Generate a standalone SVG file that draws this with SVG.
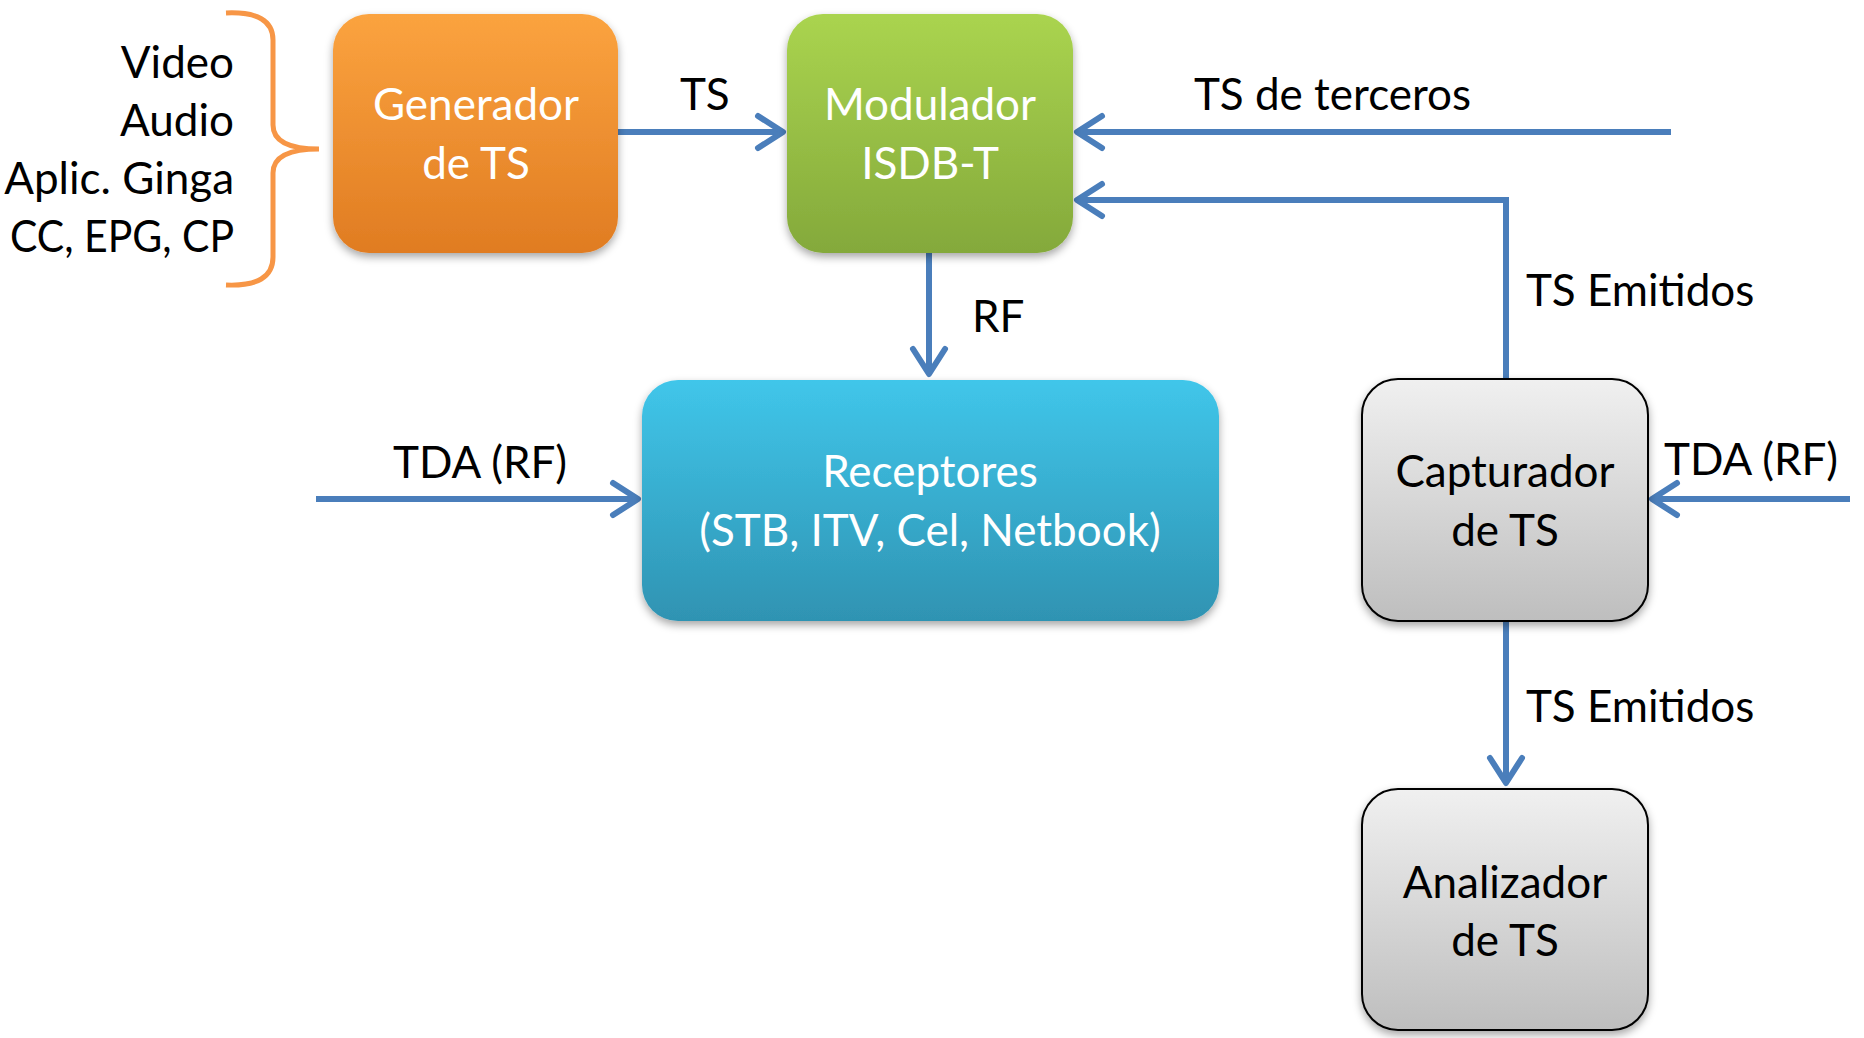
<svg xmlns="http://www.w3.org/2000/svg" width="1864" height="1038" viewBox="0 0 1864 1038">
<defs>
<linearGradient id="gOr" x1="0" y1="0" x2="0" y2="1"><stop offset="0" stop-color="#fba33f"/><stop offset="1" stop-color="#e07c22"/></linearGradient>
<linearGradient id="gGr" x1="0" y1="0" x2="0" y2="1"><stop offset="0" stop-color="#aad44f"/><stop offset="1" stop-color="#84a93b"/></linearGradient>
<linearGradient id="gBl" x1="0" y1="0" x2="0" y2="1"><stop offset="0" stop-color="#40c6ea"/><stop offset="1" stop-color="#2f93b2"/></linearGradient>
<linearGradient id="gGy" x1="0" y1="0" x2="0" y2="1"><stop offset="0" stop-color="#f0f0f0"/><stop offset="1" stop-color="#bebebe"/></linearGradient>
<filter id="sh" x="-10%" y="-10%" width="120%" height="125%"><feDropShadow dx="0" dy="4" stdDeviation="4" flood-color="#000" flood-opacity="0.35"/></filter>
<style>
text{font-family:Lato,"Open Sans","Noto Sans",sans-serif;font-size:44px}
.w{fill:#ffffff;text-anchor:middle}
.k{fill:#000000;text-anchor:middle}
.l{fill:#000000}
.c{fill:none;stroke:#4a7ebb;stroke-width:6}
.h{fill:none;stroke:#4a7ebb;stroke-width:6;stroke-linecap:round;stroke-linejoin:round}
</style>
</defs>
<rect width="1864" height="1038" fill="#ffffff"/>
<g id="inputs">
<path d="M226,13 Q273,11 273,40 L273,125 Q273,149 319,149 Q273,149 273,173 L273,257 Q273,287 226,285" fill="none" stroke="#f79646" stroke-width="5"/>
<text class="l" x="234" y="78" text-anchor="end">Video</text>
<text class="l" x="234" y="136" text-anchor="end">Audio</text>
<text class="l" x="234" y="194" text-anchor="end">Aplic. Ginga</text>
<text class="l" x="10" y="252" textLength="224" lengthAdjust="spacingAndGlyphs">CC, EPG, CP</text>
</g>
<g id="connectors">
<path class="c" d="M618,132 L782,132"/>
<path class="h" d="M758,116 L783,132 L758,148"/>
<path class="c" d="M1671,132 L1078,132"/>
<path class="h" d="M1102,116 L1077,132 L1102,148"/>
<path class="c" d="M1506,378 L1506,200 L1078,200"/>
<path class="h" d="M1102,184 L1077,200 L1102,216"/>
<path class="c" d="M929,253 L929,373"/>
<path class="h" d="M913,349 L929,374 L945,349"/>
<path class="c" d="M316,499 L637,499"/>
<path class="h" d="M613,483 L638,499 L613,515"/>
<path class="c" d="M1850,499 L1653,499"/>
<path class="h" d="M1677,483 L1652,499 L1677,515"/>
<path class="c" d="M1506,621 L1506,782"/>
<path class="h" d="M1490,758 L1506,783 L1522,758"/>
<text class="l" x="680" y="110">TS</text>
<text class="l" x="1194" y="110">TS de terceros</text>
<text class="l" x="1526" y="306">TS Emitidos</text>
<text class="l" x="972" y="332">RF</text>
<text class="l" x="393" y="478">TDA (RF)</text>
<text class="l" x="1664" y="475">TDA (RF)</text>
<text class="l" x="1526" y="722">TS Emitidos</text>
</g>
<g id="generador">
<rect x="333" y="14" width="285" height="239" rx="36" fill="url(#gOr)" filter="url(#sh)"/>
<text class="w" x="476" y="120">Generador</text>
<text class="w" x="476" y="179">de TS</text>
</g>
<g id="modulador">
<rect x="787" y="14" width="286" height="239" rx="36" fill="url(#gGr)" filter="url(#sh)"/>
<text class="w" x="930" y="120">Modulador</text>
<text class="w" x="930" y="179">ISDB-T</text>
</g>
<g id="receptores">
<rect x="642" y="380" width="577" height="241" rx="36" fill="url(#gBl)" filter="url(#sh)"/>
<text class="w" x="930" y="487">Receptores</text>
<text class="w" x="930" y="546">(STB, ITV, Cel, Netbook)</text>
</g>
<g id="capturador">
<rect x="1362" y="379" width="286" height="242" rx="36" fill="url(#gGy)" stroke="#000" stroke-width="2" filter="url(#sh)"/>
<text class="k" x="1505" y="487">Capturador</text>
<text class="k" x="1505" y="546">de TS</text>
</g>
<g id="analizador">
<rect x="1362" y="789" width="286" height="241" rx="36" fill="url(#gGy)" stroke="#000" stroke-width="2" filter="url(#sh)"/>
<text class="k" x="1505" y="898">Analizador</text>
<text class="k" x="1505" y="956">de TS</text>
</g>
</svg>
